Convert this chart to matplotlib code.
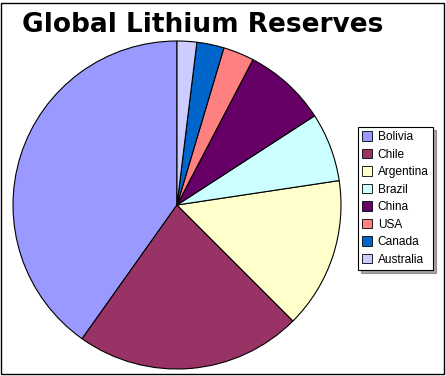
import matplotlib
matplotlib.use("Agg")
import matplotlib.pyplot as plt
from matplotlib.patches import Rectangle

countries = ["Bolivia", "Chile", "Argentina", "Brazil", "China", "USA", "Canada", "Australia"]
reserves = [5.4, 3.0, 2.0, 0.91, 1.1, 0.41, 0.36, 0.26]
colors = ["#9999FF", "#993366", "#FFFFCC", "#CCFFFF", "#660066", "#FF8080", "#0066CC", "#CCCCFF"]
title = "Global Lithium Reserves"

W, H = 446, 376
fig = plt.figure(figsize=(W / 100, H / 100), dpi=100)
fig.patch.set_facecolor("white")

cx, cy, r = 177, 205, 164
ax = fig.add_axes([(cx - r) / W, (H - cy - r) / H, 2 * r / W, 2 * r / H])
wedges, _ = ax.pie(reserves, colors=colors, startangle=90, counterclock=True,
                   wedgeprops=dict(edgecolor="black", linewidth=0.8))
for w in wedges:
    w.set_clip_on(False)
ax.set_xlim(-1, 1)
ax.set_ylim(-1, 1)
ax.set_aspect("auto")
ax.axis("off")

fig.text(22 / W, 1 - 25 / H, title, fontsize=19, fontweight="heavy",
         family=["DejaVu Sans"], va="center", ha="left")

leg = fig.legend(wedges, countries, loc="upper left",
                 bbox_to_anchor=(358 / W, 1 - 127 / H),
                 prop=dict(family="Liberation Sans", size=8.6),
                 frameon=True, fancybox=False, shadow=True,
                 edgecolor="black", handlelength=0.85, handleheight=0.85,
                 handletextpad=0.45, labelspacing=0.46, borderpad=0.35,
                 borderaxespad=0)
leg.get_frame().set_linewidth(0.8)
for h in leg.legend_handles:
    h.set_edgecolor("black")
    h.set_linewidth(0.6)

fig.patches.append(Rectangle((0.5 / W, 2.5 / H), 443 / W, 371 / H,
                             transform=fig.transFigure, fill=False,
                             edgecolor="black", linewidth=1.0))

fig.savefig("out.png", dpi=100)
